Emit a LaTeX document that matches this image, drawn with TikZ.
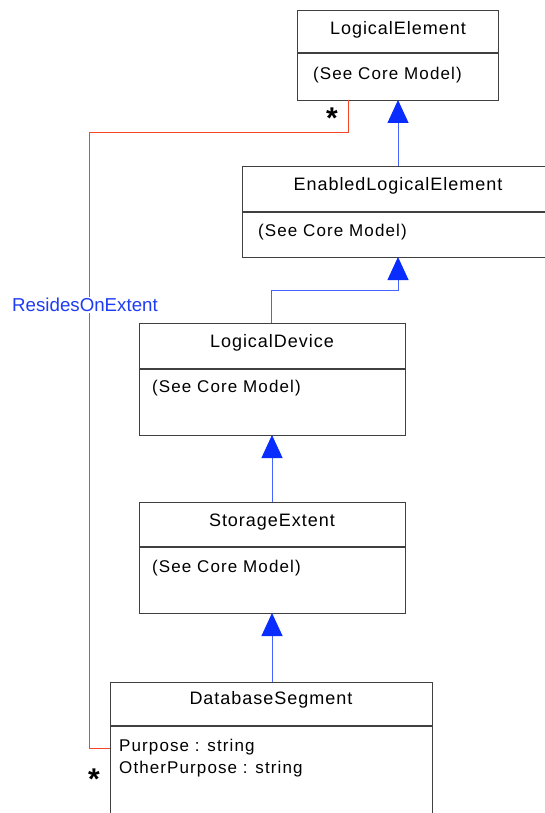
\documentclass[tikz,border=0pt]{standalone}
\usepackage{fontspec}
\setmainfont{Liberation Sans}
\newfontfamily\titlefont[LetterSpace=5.5]{Liberation Sans}
\newfontfamily\attrfont[LetterSpace=6.5]{Liberation Sans}
\usetikzlibrary{arrows.meta}
\definecolor{boxline}{RGB}{64,64,64}
\definecolor{genline}{RGB}{70,100,255}
\definecolor{genhead}{RGB}{10,45,255}
\definecolor{assocline}{RGB}{245,70,40}
\definecolor{assoclabel}{RGB}{30,60,245}
\begin{document}
\begin{tikzpicture}[x=1pt,y=-1pt,
  cls/.style={draw=boxline, line width=1.2pt, rectangle, inner sep=0pt, anchor=north west},
  divider/.style={draw=boxline, line width=1.2pt},
  title/.style={font=\titlefont\fontsize{18}{21}\selectfont, inner sep=0pt, anchor=center},
  attr/.style={font=\attrfont\fontsize{17}{20}\selectfont, inner sep=0pt, anchor=west},
  gen/.style={draw=genline, line width=0.9pt,
    -{Triangle[width=21pt,length=23pt,color=genhead,fill=genhead]}},
  assoc/.style={draw=assocline, line width=0.9pt},
  mult/.style={font=\bfseries\fontsize{30}{30}\selectfont, inner sep=0pt}]
\useasboundingbox (0,0) rectangle (544,813);
\fill[white] (0,0) rectangle (544,813);

% LogicalElement
\node[cls, minimum width=201pt, minimum height=90pt] (le) at (297,10) {};
\draw[divider] (297,53) -- (498,53);
\node[title] (leT) at (398,30) {LogicalElement};
\node[attr] (leA) at (313,75) {(See Core Model)};

% EnabledLogicalElement
\node[cls, minimum width=312pt, minimum height=91pt] (ele) at (242,166) {};
\draw[divider] (242,212) -- (554,212);
\node[title] (eleT) at (398,186) {EnabledLogicalElement};
\node[attr] (eleA) at (258,232) {(See Core Model)};

% LogicalDevice
\node[cls, minimum width=266pt, minimum height=112pt] (ld) at (139,323) {};
\draw[divider] (139,369) -- (405,369);
\node[title] (ldT) at (272,343) {LogicalDevice};
\node[attr] (ldA) at (152,388) {(See Core Model)};

% StorageExtent
\node[cls, minimum width=266pt, minimum height=111pt] (se) at (139,502) {};
\draw[divider] (139,547) -- (405,547);
\node[title] (seT) at (272,522) {StorageExtent};
\node[attr] (seA) at (152,568) {(See Core Model)};

% DatabaseSegment
\node[cls, minimum width=322pt, minimum height=150pt] (ds) at (110,682) {};
\draw[divider] (110,726) -- (432,726);
\node[title] (dsT) at (271,700) {DatabaseSegment};
\node[attr] (dsA1) at (119,747) {Purpose : string};
\node[attr] (dsA2) at (119,769) {OtherPurpose : string};

% Generalizations
\coordinate (eleTop) at (398,166);
\coordinate (leBot) at (398,100);
\draw[gen] (eleTop) -- (leBot);

\coordinate (ldTop) at (271,323);
\coordinate (eleBot) at (398,257);
\draw[gen] (ldTop) -- (271,290) -- (398,290) -- (eleBot);

\coordinate (seTop) at (272,502);
\coordinate (ldBot) at (272,435);
\draw[gen] (seTop) -- (ldBot);

\coordinate (dsTop) at (272,682);
\coordinate (seBot) at (272,613);
\draw[gen] (dsTop) -- (seBot);

% Association ResidesOnExtent
\coordinate (assocA) at (348,100);
\coordinate (assocB) at (110,748);
\draw[assoc] (assocA) -- (348,132) -- (89,132) -- (89,748) -- (assocB);
\node[font=\fontsize{18.7}{22}\selectfont, text=assoclabel, fill=white, inner sep=1pt] (rel) at (85,305) {ResidesOnExtent};
\node[mult] (m1) at (332,118) {*};
\node[mult] (m2) at (94,779) {*};
\end{tikzpicture}
\end{document}
